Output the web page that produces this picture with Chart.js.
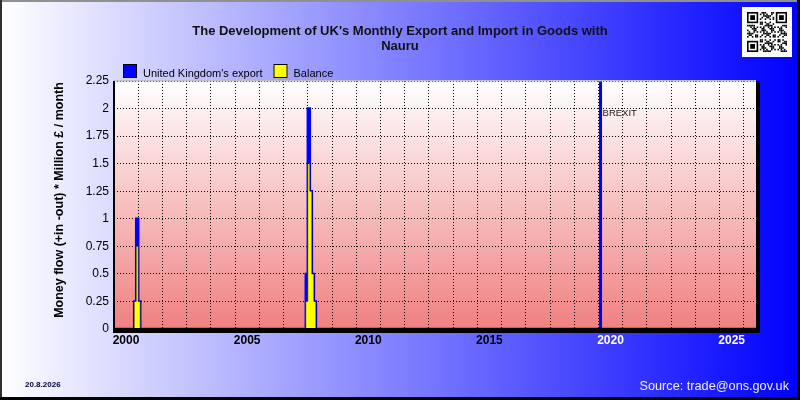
<!DOCTYPE html>
<html>
<head>
<meta charset="utf-8">
<script src="https://cdn.jsdelivr.net/npm/chart.js@4.4.1/dist/chart.umd.min.js"></script>
<style>
  html, body { margin: 0; padding: 0; background: #fff; }
</style>
</head>
<body>
<canvas id="chart" width="800" height="400"></canvas>
<script>
// UK trade in goods with Nauru, million £ per month (months not listed are 0)
const tradeMonths   = ['2000-11', '2000-12', '2001-01', '2007-12', '2008-01', '2008-02', '2008-03', '2008-04'];
const exportValues  = [0.25, 1.0, 0.25, 0.5, 2.0, 1.25, 0.5, 0.25];
const balanceValues = [0.25, 0.75, 0.25, 0.25, 1.5, 1.25, 0.5, 0.25];

const seriesLabels = ["United Kingdom's export", 'Balance'];
const seriesColors = ['#0000ff', '#ffff00'];
const xLabelYears = [2000, 2005, 2010, 2015, 2020, 2025];
const yTicks = [0, 0.25, 0.5, 0.75, 1, 1.25, 1.5, 1.75, 2, 2.25];
const brexitDate = 2020.083; // 31 Jan 2020

const X_MIN = 2000;
const X_MAX = 2026.5;
const FONT = 'Arial, "Liberation Sans", sans-serif';

// one point per month, 0 where nothing was traded
function buildSeries(values) {
  const pts = [];
  for (let y = 2000; y < X_MAX; y++) {
    for (let mo = 1; mo <= 12; mo++) {
      const key = y + '-' + String(mo).padStart(2, '0');
      const x = y + (mo - 1) / 12;
      if (x >= X_MAX) break;
      const i = tradeMonths.indexOf(key);
      pts.push({ x, y: i >= 0 ? values[i] : 0 });
    }
  }
  pts.push({ x: X_MAX, y: 0 });
  return pts;
}

function drawQR(ctx, x0, y0) {
  ctx.fillStyle = '#fff';
  ctx.fillRect(x0, y0, 50, 50);
  const n = 25, m = 1.6, ox = x0 + 5, oy = y0 + 5;
  ctx.fillStyle = '#000';
  const inFinder = (i, j) => (i < 8 && j < 8) || (i > n - 9 && j < 8) || (i < 8 && j > n - 9);
  const finder = (fi, fj) => {
    ctx.fillRect(ox + fi * m, oy + fj * m, 7 * m, 7 * m);
    ctx.fillStyle = '#fff';
    ctx.fillRect(ox + (fi + 1) * m, oy + (fj + 1) * m, 5 * m, 5 * m);
    ctx.fillStyle = '#000';
    ctx.fillRect(ox + (fi + 2) * m, oy + (fj + 2) * m, 3 * m, 3 * m);
  };
  finder(0, 0); finder(n - 7, 0); finder(0, n - 7);
  for (let i = 0; i < n; i++) {
    for (let j = 0; j < n; j++) {
      if (inFinder(i, j)) continue;
      if (((i * 31 + j * 17 + i * j * 7) % 11) < 5) ctx.fillRect(ox + i * m, oy + j * m, m, m);
    }
  }
}

const decor = {
  id: 'decor',
  beforeDraw(chart) {
    const { ctx, chartArea: a, width, height } = chart;
    ctx.save();
    let g = ctx.createLinearGradient(0, 0, width, 0);
    g.addColorStop(0, '#ffffff');
    g.addColorStop(1, '#0000ff');
    ctx.fillStyle = g;
    ctx.fillRect(0, 0, width, height);
    g = ctx.createLinearGradient(0, a.top, 0, a.bottom);
    g.addColorStop(0, '#ffffff');
    g.addColorStop(1, '#f08080');
    ctx.fillStyle = g;
    ctx.fillRect(a.left, a.top, a.right - a.left, a.bottom - a.top);
    ctx.restore();
  },
  beforeDatasetsDraw(chart) {
    const { ctx, chartArea: a } = chart;
    const x = chart.scales.x.getPixelForValue(brexitDate);
    ctx.save();
    ctx.fillStyle = '#0000ff';
    ctx.fillRect(x - 1.5, a.top, 3, a.bottom - a.top);
    ctx.fillStyle = '#202020';
    ctx.font = '9.5px ' + FONT;
    ctx.textBaseline = 'alphabetic';
    ctx.fillText('BREXIT', x + 2, a.top + 35);
    ctx.restore();
  },
  afterDatasetsDraw(chart) {
    const { ctx, chartArea: a } = chart;
    ctx.save();
    ctx.fillStyle = '#c0c0c0';
    ctx.fillRect(a.left, a.top - 1, a.right - a.left, 1.5);
    ctx.fillStyle = '#000';
    ctx.fillRect(a.right, a.top, 4, a.bottom - a.top + 4);
    ctx.fillRect(a.left - 1, a.bottom - 1, a.right - a.left + 5, 5);
    ctx.fillRect(a.left - 1, a.top, 2, a.bottom - a.top + 4);
    ctx.restore();
  },
  afterDraw(chart) {
    const { ctx, chartArea: a, width, height } = chart;
    ctx.save();
    // title
    ctx.fillStyle = '#111';
    ctx.font = 'bold 13px ' + FONT;
    ctx.textAlign = 'center';
    ctx.textBaseline = 'alphabetic';
    ctx.fillText("The Development of UK's Monthly Export and Import in Goods with", 400, 35);
    ctx.fillText('Nauru', 400, 50);
    // y axis title
    ctx.save();
    ctx.translate(63, 200);
    ctx.rotate(-Math.PI / 2);
    ctx.font = 'bold 12.5px ' + FONT;
    ctx.fillStyle = '#000';
    ctx.fillText('Money flow (+in -out) * Million £ / month', 0, 0);
    ctx.restore();
    // legend
    ctx.textAlign = 'left';
    ctx.font = '11px ' + FONT;
    let lx = a.left + 9;
    chart.data.datasets.slice().sort((p, q) => q.order - p.order).forEach(ds => {
      ctx.fillStyle = ds.legendColor;
      ctx.fillRect(lx, 64, 14, 14);
      ctx.strokeStyle = '#000';
      ctx.lineWidth = 1;
      ctx.strokeRect(lx + 0.5, 64.5, 13, 13);
      ctx.fillStyle = '#000';
      ctx.fillText(ds.label, lx + 20, 77);
      lx += 20 + ctx.measureText(ds.label).width + 11;
    });
    // date + source
    ctx.font = 'bold 8px ' + FONT;
    ctx.fillStyle = '#000033';
    ctx.fillText('20.8.2026', 25, 387);
    ctx.font = '12.7px ' + FONT;
    ctx.fillStyle = '#f0f0ff';
    ctx.textAlign = 'right';
    ctx.fillText('Source: trade@ons.gov.uk', 789, 390);
    drawQR(ctx, 742, 7);
    // outer frame
    ctx.fillStyle = '#909090';
    ctx.fillRect(0, 0, width, 2);
    ctx.fillStyle = '#303030';
    ctx.fillRect(0, 0, 2, height);
    ctx.fillStyle = '#000';
    ctx.fillRect(width - 3, 0, 3, height);
    ctx.fillRect(0, height - 3, width, 3);
    ctx.restore();
  }
};

new Chart(document.getElementById('chart'), {
  type: 'line',
  data: {
    datasets: [
      {
        label: seriesLabels[0],
        data: buildSeries(exportValues),
        stepped: true,
        fill: 'origin',
        borderColor: seriesColors[0],
        backgroundColor: seriesColors[0],
        legendColor: seriesColors[0],
        borderWidth: 2.5,
        pointRadius: 0,
        order: 2
      },
      {
        label: seriesLabels[1],
        data: buildSeries(balanceValues),
        stepped: true,
        fill: 'origin',
        borderColor: '#000',
        backgroundColor: seriesColors[1],
        legendColor: seriesColors[1],
        borderWidth: 0.5,
        pointRadius: 0,
        order: 1
      }
    ]
  },
  options: {
    responsive: false,
    animation: false,
    layout: { padding: { top: 81, right: 44, bottom: 41, left: 0 } },
    plugins: { legend: { display: false }, title: { display: false }, tooltip: { enabled: false } },
    scales: {
      x: {
        type: 'linear',
        min: X_MIN,
        max: X_MAX,
        afterBuildTicks: s => {
          const t = [];
          for (let v = X_MIN; v <= X_MAX; v++) t.push({ value: v });
          s.ticks = t;
        },
        afterFit: s => { s.height = 30; },
        grid: { color: '#000', lineWidth: 1, drawTicks: false },
        border: { display: false, dash: [1, 2] },
        ticks: {
          autoSkip: false,
          maxRotation: 0,
          labelOffset: 12,
          padding: 4,
          font: { family: FONT, size: 12, weight: 'bold' },
          color: c => (c.tick && c.tick.value >= 2020 ? '#ffffff' : '#000000'),
          callback: v => (xLabelYears.includes(v) ? String(v) : '')
        }
      },
      y: {
        min: 0,
        max: 2.25,
        afterBuildTicks: s => { s.ticks = yTicks.map(v => ({ value: v })); },
        afterFit: s => { s.width = 114; },
        grid: { color: '#000', lineWidth: 1, drawTicks: false },
        border: { display: false, dash: [1, 2] },
        ticks: {
          padding: 5,
          font: { family: FONT, size: 12 },
          color: '#000',
          callback: v => String(v)
        }
      }
    }
  },
  plugins: [decor]
});
</script>
</body>
</html>
